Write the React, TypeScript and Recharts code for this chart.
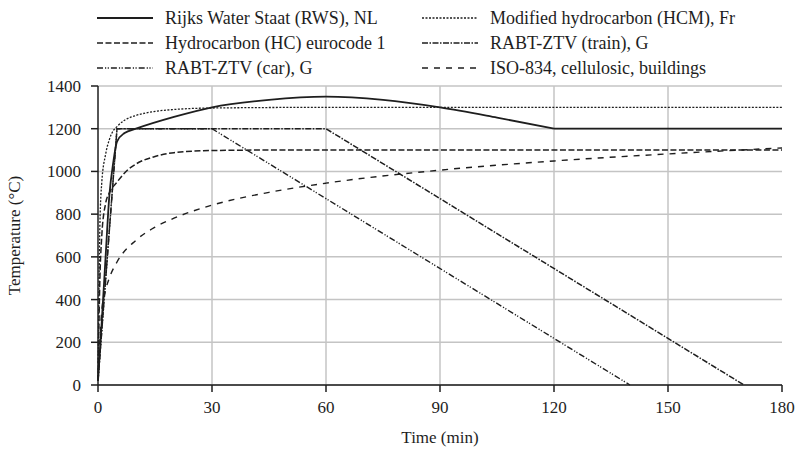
import { LineChart, Line, XAxis, YAxis, CartesianGrid } from 'recharts'

// time (min) / temperature (°C) pairs
const rwsTime = [0, 1, 2, 3, 4, 5, 7, 10, 20, 30, 45, 60, 75, 90, 105, 120, 180]
const rwsTemp = [20, 300, 600, 890, 1040, 1140, 1180, 1200, 1255, 1300, 1335, 1350, 1335, 1300, 1252, 1200, 1200]

const hcmTime = [0, 0.5, 1, 2, 3, 4, 5, 7, 10, 15, 20, 30, 60, 180]
const hcmTemp = [20, 750, 950, 1080, 1150, 1190, 1210, 1240, 1262, 1281, 1290, 1297, 1300, 1300]

const hcTime = [0, 0.5, 1, 2, 3, 5, 8, 10, 15, 20, 30, 45, 180]
const hcTemp = [20, 500, 700, 850, 900, 950, 1010, 1035, 1070, 1088, 1098, 1100, 1100]

const trainTime = [0, 5, 60, 170]
const trainTemp = [20, 1200, 1200, 0]

const carTime = [0, 5, 30, 140]
const carTemp = [20, 1200, 1200, 0]

const isoTime = [0, 1, 2, 3, 5, 10, 15, 20, 30, 45, 60, 90, 120, 150, 180]
const isoTemp = [20, 349, 445, 502, 576, 678, 739, 781, 842, 902, 945, 1006, 1049, 1082, 1110]

const xTicks = [0, 30, 60, 90, 120, 150, 180]
const yTicks = [0, 200, 400, 600, 800, 1000, 1200, 1400]

const toPoints = (time: number[], temp: number[]) => time.map((t, i) => ({ t, v: temp[i] }))

const INK = '#1e1e1e'
const FONT = '"Liberation Serif", "Times New Roman", Times, Tinos, "DejaVu Serif", "Noto Serif", serif'

const rwsPoints = toPoints(rwsTime, rwsTemp)
const rwsKnee = rwsTime.indexOf(120) // curve bends sharply into the plateau here

const series = [
  { name: 'Rijks Water Staat (RWS), NL', data: rwsPoints.slice(0, rwsKnee + 1), dash: undefined, width: 1.8, type: 'monotone' },
  { name: 'Modified hydrocarbon (HCM), Fr', data: toPoints(hcmTime, hcmTemp), dash: '2 1.5', width: 1.3, type: 'monotone' },
  { name: 'Hydrocarbon (HC) eurocode 1', data: toPoints(hcTime, hcTemp), dash: '6 2.5', width: 1.5, type: 'monotone' },
  { name: 'RABT-ZTV (train), G', data: toPoints(trainTime, trainTemp), dash: '6 1.5 1.5 1.5', width: 1.5, type: 'linear' },
  { name: 'RABT-ZTV (car), G', data: toPoints(carTime, carTemp), dash: '6 2 1.2 1.5 1.2 2', width: 1.4, type: 'linear' },
  { name: 'ISO-834, cellulosic, buildings', data: toPoints(isoTime, isoTemp), dash: '6 6', width: 1.4, type: 'monotone' },
]

// legend order: left column then right column, row by row
const legendCols = [
  [series[0], series[2], series[4]],
  [series[1], series[3], series[5]],
]
const legendLeft = [97, 422]
const legendRows = [18, 43, 68]

function LegendBlock() {
  return (
    <>
      {legendCols.map((col, ci) =>
        col.map((s, ri) => (
          <div
            key={s.name}
            style={{
              position: 'absolute',
              left: legendLeft[ci],
              top: legendRows[ri] - 11,
              height: 22,
              display: 'flex',
              alignItems: 'center',
              fontSize: 18,
              color: INK,
              whiteSpace: 'nowrap',
            }}
          >
            <svg width={56} height={22} style={{ marginRight: 12 }}>
              <line x1={0} y1={11} x2={56} y2={11} stroke={INK} strokeWidth={s.width} strokeDasharray={s.dash} />
            </svg>
            {s.name}
          </div>
        ))
      )}
    </>
  )
}

export default function App() {
  return (
    <div
      style={{
        position: 'absolute',
        left: 0,
        top: 0,
        width: 797,
        height: 450,
        background: '#fff',
        fontFamily: FONT,
      }}
    >
      <LineChart width={797} height={450} margin={{ top: 86, right: 15, bottom: 0, left: 0 }} style={{ fontFamily: FONT }}>
        <CartesianGrid stroke="#c4c4c4" strokeWidth={1.5} verticalValues={[30, 60, 90, 120, 150]} />
        <XAxis
          type="number"
          dataKey="t"
          domain={[0, 180]}
          ticks={xTicks}
          interval={0}
          height={65}
          tickSize={7}
          tickMargin={9}
          axisLine={{ stroke: INK, strokeWidth: 1.5 }}
          tickLine={{ stroke: INK, strokeWidth: 1.5 }}
          tick={{ fill: INK, fontSize: 17, fontFamily: FONT }}
          label={{ value: 'Time (min)', position: 'insideBottom', offset: 7, fill: INK, fontSize: 17, fontFamily: FONT }}
          allowDuplicatedCategory={false}
        />
        <YAxis
          type="number"
          domain={[0, 1400]}
          ticks={yTicks}
          interval={0}
          width={98}
          tickSize={7}
          tickMargin={10}
          axisLine={{ stroke: INK, strokeWidth: 1.5 }}
          tickLine={{ stroke: INK, strokeWidth: 1.5 }}
          tick={{ fill: INK, fontSize: 17, fontFamily: FONT }}
          label={{ value: 'Temperature (°C)', angle: -90, position: 'insideLeft', offset: 14, fill: INK, fontSize: 17, fontFamily: FONT, style: { textAnchor: 'middle' } }}
        />
        {series.map((s) => (
          <Line
            key={s.name}
            data={s.data}
            dataKey="v"
            name={s.name}
            type={s.type as any}
            stroke={INK}
            strokeWidth={s.width}
            strokeDasharray={s.dash}
            dot={false}
            activeDot={false}
            isAnimationActive={false}
          />
        ))}
        {/* RWS plateau after the 120 min knee */}
        <Line
          data={rwsPoints.slice(rwsKnee)}
          dataKey="v"
          type="linear"
          stroke={INK}
          strokeWidth={1.8}
          dot={false}
          activeDot={false}
          legendType="none"
          isAnimationActive={false}
        />
      </LineChart>
      <LegendBlock />
    </div>
  )
}
